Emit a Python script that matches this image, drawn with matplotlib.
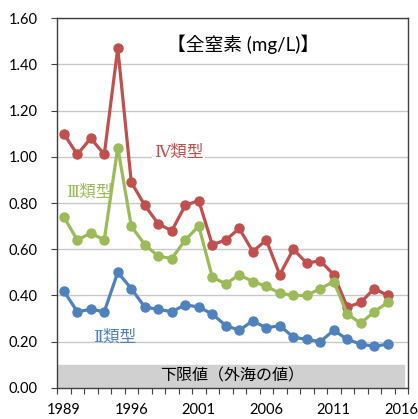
import matplotlib
matplotlib.use("Agg")
import matplotlib.pyplot as plt

plt.rcParams['font.family'] = ['Lato', 'Noto Sans CJK JP', 'DejaVu Sans']

# values (25 survey points)
type4 = [1.10, 1.01, 1.08, 1.01, 1.47, 0.89, 0.79, 0.71, 0.68, 0.79, 0.81, 0.62, 0.64,
         0.69, 0.59, 0.64, 0.49, 0.60, 0.54, 0.55, 0.49, 0.35, 0.37, 0.43, 0.40]
type3 = [0.74, 0.64, 0.67, 0.64, 1.04, 0.70, 0.62, 0.57, 0.56, 0.64, 0.70, 0.48, 0.45,
         0.49, 0.46, 0.44, 0.41, 0.40, 0.40, 0.43, 0.46, 0.32, 0.28, 0.33, 0.37]
type2 = [0.42, 0.33, 0.34, 0.33, 0.50, 0.43, 0.35, 0.34, 0.33, 0.36, 0.35, 0.32, 0.27,
         0.25, 0.29, 0.26, 0.27, 0.22, 0.21, 0.20, 0.25, 0.21, 0.19, 0.18, 0.19]
year_labels = ["1989", "1996", "2001", "2006", "2011", "2016"]
lower_limit = 0.10

red = "#C0504D"
green = "#9BBB59"
blue = "#4F81BD"
cjk = ['Noto Sans CJK JP', 'DejaVu Sans']
serif_cjk = ['DejaVu Serif', 'Noto Sans CJK JP']

fig = plt.figure(figsize=(4.18, 4.19), dpi=100)
ax = fig.add_axes([0.1364, 0.074, 0.8397, 0.883])

x = list(range(len(type4)))
ax.axhspan(0, lower_limit, xmin=0, xmax=0.99, color="#d0d0d0", zorder=1)
ax.text(12.5, lower_limit / 2, "下限値（外海の値）", ha="center", va="center",
        fontsize=11.5, color="black", family=cjk, zorder=2)

for vals, col in [(type4, red), (type3, green), (type2, blue)]:
    ax.plot(x, vals, color=col, lw=2.3, marker="o", markersize=6.5, zorder=3)

box = dict(facecolor="white", edgecolor="none", pad=1)
ax.text(8.5, 1.02, "Ⅳ類型", color=red, fontsize=12, ha="center", va="center",
        family=serif_cjk, bbox=box, zorder=2)
ax.text(1.9, 0.845, "Ⅲ類型", color=green, fontsize=12, ha="center", va="center",
        family=serif_cjk, bbox=box, zorder=2)
ax.text(3.8, 0.22, "Ⅱ類型", color=blue, fontsize=12, ha="center", va="center",
        family=serif_cjk, zorder=2)
ax.text(0.53, 0.93, "【全窒素 (mg/L)】", transform=ax.transAxes, fontsize=13.5,
        ha="center", va="center")

ax.set_xlim(-0.5, 25.5)
ax.set_ylim(0, 1.6)
ax.set_yticks([i * 0.2 for i in range(9)])
ax.set_yticklabels([f"{i * 0.2:.2f}" for i in range(9)])
ax.set_xticks([0, 5, 10, 15, 20, 25])
ax.set_xticklabels(year_labels)
ax.set_xticks([i - 0.5 for i in range(27)], minor=True)
ax.tick_params(axis="x", which="major", length=0, pad=11, labelsize=10.5)
ax.tick_params(axis="x", which="minor", length=4, width=0.8, color="#404040", direction="out")
ax.tick_params(axis="y", length=4, width=0.8, color="#404040", pad=10, labelsize=10.5)

ax.yaxis.grid(True, color="#c8c8c8", lw=1)
ax.set_axisbelow(True)
for s in ax.spines.values():
    s.set_color("#404040")
    s.set_linewidth(1)

fig.savefig("out.png", dpi=100)
